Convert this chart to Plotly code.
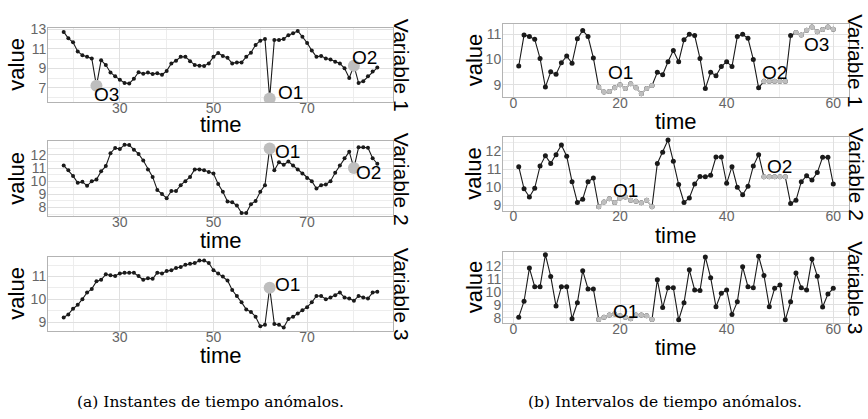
import plotly.graph_objects as go

W, H = 868, 419

# ---------------- data ----------------
time_a = list(range(18, 86))
time_b = list(range(1, 61))

a_var1 = [12.73, 12.07, 11.67, 10.73, 10.33, 10.17, 10.0, 7.2, 9.83, 9.33,
          8.57, 8.17, 7.83, 7.5, 7.43, 7.93, 8.6, 8.43, 8.57, 8.4,
          8.5, 8.33, 8.73, 9.5, 9.77, 10.17, 10.17, 9.73, 9.33, 9.27,
          9.23, 9.5, 10.17, 10.57, 10.27, 10.07, 9.5, 9.6, 9.6, 10.17,
          10.6, 11.4, 11.83, 12.0, 5.9, 11.9, 11.9, 12.0, 12.4, 12.6,
          12.83, 12.23, 11.6, 10.83, 10.17, 10.27, 10.0, 9.9, 9.67, 9.5,
          9.0, 8.0, 9.27, 7.5, 7.67, 8.17, 8.67, 9.07]
a_var2 = [11.2, 10.83, 10.4, 9.88, 9.95, 9.65, 10.0, 10.13, 10.75, 11.15,
          12.13, 12.53, 12.45, 12.78, 12.75, 12.4, 12.08, 11.58, 10.9, 10.33,
          9.33, 9.03, 8.7, 9.25, 9.25, 9.7, 10.0, 10.33, 10.9, 10.9,
          10.83, 10.7, 10.58, 9.78, 9.2, 8.45, 8.4, 8.15, 7.58, 7.58,
          8.25, 8.5, 9.2, 9.7, 12.5, 10.83, 11.45, 11.25, 11.5, 11.2,
          10.9, 10.58, 10.25, 10.0, 9.45, 9.7, 9.75, 10.0, 10.65, 11.2,
          11.75, 12.25, 11.0, 12.58, 12.58, 12.55, 11.75, 11.33]
a_var3 = [9.21, 9.34, 9.59, 9.76, 10.01, 10.3, 10.46, 10.79, 10.86, 11.1,
          11.06, 11.03, 11.14, 11.17, 11.17, 11.17, 11.03, 10.86, 10.93, 10.9,
          11.17, 11.14, 11.24, 11.28, 11.38, 11.42, 11.52, 11.56, 11.59, 11.7,
          11.7, 11.6, 11.28, 11.14, 11.0, 10.83, 10.41, 10.15, 9.87, 9.56,
          9.45, 9.24, 8.82, 8.89, 10.51, 8.92, 8.89, 8.77, 9.14, 9.24,
          9.38, 9.52, 9.66, 9.87, 10.15, 10.15, 10.01, 10.08, 10.18, 10.3,
          10.08, 10.04, 9.94, 10.15, 10.08, 10.04, 10.3, 10.34]

b_var1 = [9.74, 10.96, 10.9, 10.79, 10.04, 8.91, 9.51, 9.42, 9.87, 10.13,
          9.85, 10.81, 11.14, 10.9, 10.06, 8.91, 8.72, 8.74, 8.88, 9.0,
          8.85, 9.04, 8.88, 8.65, 8.85, 8.97, 9.49, 9.4, 9.91, 10.35,
          9.91, 10.77, 10.99, 10.94, 10.04, 8.85, 9.49, 9.36, 9.72, 9.91,
          9.72, 10.9, 10.99, 10.83, 10.0, 8.88, 9.14, 9.14, 9.14, 9.14,
          9.14, 10.94, 11.06, 10.96, 11.15, 11.28, 11.09, 11.18, 11.28, 11.19]
b_var2 = [11.15, 9.91, 9.45, 9.95, 11.18, 11.76, 11.33, 11.82, 12.36, 11.73,
          10.31, 9.15, 9.33, 10.31, 10.51, 8.91, 9.18, 9.36, 9.15, 9.4,
          9.45, 9.27, 9.22, 9.13, 9.27, 8.91, 11.33, 11.95, 12.64, 11.45,
          10.15, 9.15, 9.4, 10.18, 10.6, 10.58, 10.67, 11.69, 11.69, 10.22,
          11.15, 10.0, 9.58, 10.05, 11.18, 11.82, 10.58, 10.58, 10.58, 10.58,
          10.58, 9.09, 9.27, 10.31, 10.64, 10.4, 10.82, 11.67, 11.67, 10.18]
b_var3 = [8.05, 9.28, 11.83, 10.4, 10.4, 12.86, 11.19, 8.91, 10.4, 10.4,
          7.93, 9.16, 11.63, 10.22, 10.22, 7.88, 8.05, 8.22, 8.3, 8.17,
          8.05, 7.93, 8.22, 8.22, 8.17, 7.88, 10.94, 8.79, 10.32, 10.32,
          7.85, 9.16, 11.7, 10.15, 10.1, 12.69, 11.09, 8.86, 9.9, 10.15,
          8.25, 9.23, 11.93, 10.4, 10.32, 12.74, 11.26, 8.86, 10.27, 10.52,
          7.85, 9.23, 11.46, 10.32, 10.15, 12.54, 11.21, 8.84, 9.83, 10.27]

a1_out_labels = ["O3", "O1", "O2"]
a1_out_times = [25, 62, 80]
a2_out_labels = ["O1", "O2"]
a2_out_times = [62, 80]
a3_out_labels = ["O1"]
a3_out_times = [62]

b1_int_labels = ["O1", "O2", "O3"]
b1_int_start = [16, 47, 53]
b1_int_end = [26, 51, 60]
b2_int_labels = ["O1", "O2"]
b2_int_start = [16, 47]
b2_int_end = [26, 51]
b3_int_labels = ["O1"]
b3_int_start = [16]
b3_int_end = [26]

strip_labels = ["Variable 1", "Variable 2", "Variable 3"]
captions = ["(a) Instantes de tiempo anómalos.", "(b) Intervalos de tiempo anómalos."]
x_title = "time"
y_title = "value"

# ---------------- style / layout ----------------
SANS = "Liberation Sans, Arial, sans-serif"
SERIF = "DejaVu Serif, serif"
TICK_COL = "#666666"
GRID_MAJ = "#E0E0E0"
GRID_MIN = "#EDEDED"
BORDER = "#B3B3B3"
LINE_COL = "#1a1a1a"
OUT_COL = "#BEBEBE"

left_x = (48, 393)
right_x = (503, 849)
left_rows = [(22, 98), (138, 215), (256, 332)]
right_rows = [(18, 93), (134, 209), (251, 324)]

def xdom(a, b):
    return [a / W, b / W]

def ydom(top, bot):
    return [1 - bot / H, 1 - top / H]

def px(x):
    return x / W

def py(y):
    return 1 - y / H

fig = go.Figure()
layout = dict(width=W, height=H, margin=dict(l=0, r=0, t=0, b=0),
              paper_bgcolor="white", plot_bgcolor="white", showlegend=False)
annotations = []

panels = [
    dict(t=time_a, v=a_var1, xp=left_x, rp=left_rows[0], xr=[14.65, 88.35], yr=[5.55, 13.18],
         xt=[30, 50, 70], xm=[20, 40, 60, 80], yt=[7, 9, 11, 13], ym=[6, 8, 10, 12]),
    dict(t=time_a, v=a_var2, xp=left_x, rp=left_rows[1], xr=[14.65, 88.35], yr=[7.32, 13.06],
         xt=[30, 50, 70], xm=[20, 40, 60, 80], yt=[8, 9, 10, 11, 12], ym=[7.5, 8.5, 9.5, 10.5, 11.5, 12.5]),
    dict(t=time_a, v=a_var3, xp=left_x, rp=left_rows[2], xr=[14.65, 88.35], yr=[8.62, 11.88],
         xt=[30, 50, 70], xm=[20, 40, 60, 80], yt=[9, 10, 11], ym=[8.5, 9.5, 10.5, 11.5]),
    dict(t=time_b, v=b_var1, xp=right_x, rp=right_rows[0], xr=[-1.95, 62.95], yr=[8.52, 11.41],
         xt=[0, 20, 40, 60], xm=[10, 30, 50], yt=[9, 10, 11], ym=[8.5, 9.5, 10.5]),
    dict(t=time_b, v=b_var2, xp=right_x, rp=right_rows[1], xr=[-1.95, 62.95], yr=[8.7, 12.8],
         xt=[0, 20, 40, 60], xm=[10, 30, 50], yt=[9, 10, 11, 12], ym=[8.5, 9.5, 10.5, 11.5, 12.5]),
    dict(t=time_b, v=b_var3, xp=right_x, rp=right_rows[2], xr=[-1.95, 62.95], yr=[7.6, 13.1],
         xt=[0, 20, 40, 60], xm=[10, 30, 50], yt=[8, 9, 10, 11, 12], ym=[8.5, 9.5, 10.5, 11.5, 12.5]),
]

for k, p in enumerate(panels, start=1):
    xa = "x" if k == 1 else f"x{k}"
    ya = "y" if k == 1 else f"y{k}"
    common = dict(showline=True, mirror=True, linecolor=BORDER, linewidth=1,
                  zeroline=False, showgrid=True, gridcolor=GRID_MAJ, gridwidth=1,
                  tickfont=dict(family=SANS, size=14, color=TICK_COL),
                  ticks="", fixedrange=True)
    layout["xaxis" if k == 1 else f"xaxis{k}"] = dict(
        domain=xdom(*p["xp"]), anchor=ya, range=p["xr"], tickmode="array",
        tickvals=p["xt"], minor=dict(tickvals=p["xm"], showgrid=True, gridcolor=GRID_MIN, gridwidth=1),
        ticklabelstandoff=-7, **common)
    layout["yaxis" if k == 1 else f"yaxis{k}"] = dict(
        domain=ydom(*p["rp"]), anchor=xa, range=p["yr"], tickmode="array",
        tickvals=p["yt"], minor=dict(tickvals=p["ym"], showgrid=True, gridcolor=GRID_MIN, gridwidth=1),
        ticklabelstandoff=-2, **common)
    msize = 4 if k <= 3 else 5
    fig.add_trace(go.Scatter(x=p["t"], y=p["v"], mode="lines+markers", xaxis=xa, yaxis=ya,
                             line=dict(color=LINE_COL, width=1.1),
                             marker=dict(color=LINE_COL, size=msize), hoverinfo="skip"))

# ---------- outliers (left) ----------
left_out = [(a1_out_labels, a1_out_times, a_var1, [(-4, -9), (6, 6), (-4, 8)]),
            (a2_out_labels, a2_out_times, a_var2, [(3, -3), (0, -4)]),
            (a3_out_labels, a3_out_times, a_var3, [(3, 3)])]
for r, (labs, times, vals, shifts) in enumerate(left_out):
    k = r + 1
    xa = "x" if k == 1 else f"x{k}"
    ya = "y" if k == 1 else f"y{k}"
    ov = [vals[time_a.index(t)] for t in times]
    fig.add_trace(go.Scatter(x=times, y=ov, mode="markers", xaxis=xa, yaxis=ya,
                             marker=dict(color=OUT_COL, size=12), hoverinfo="skip"))
    for lab, t, v, (dx, dy) in zip(labs, times, ov, shifts):
        annotations.append(dict(x=t, y=v, xref=xa, yref=ya, text=lab, showarrow=False,
                                xanchor="left", yanchor="middle", xshift=dx, yshift=dy,
                                font=dict(family=SANS, size=19, color="black")))

# ---------- intervals (right) ----------
right_int = [(b1_int_labels, b1_int_start, b1_int_end, b_var1, [(-5, 11, "max"), (0, 9, "max"), (2, -9, "min")]),
             (b2_int_labels, b2_int_start, b2_int_end, b_var2, [(0, 7, "max"), (5, 10, "max")]),
             (b3_int_labels, b3_int_start, b3_int_end, b_var3, [(0, 2, "max")])]
for r, (labs, starts, ends, vals, shifts) in enumerate(right_int):
    k = r + 4
    xa = f"x{k}"
    ya = f"y{k}"
    for lab, s, e, (dx, dy, which) in zip(labs, starts, ends, shifts):
        i0, i1 = time_b.index(s), time_b.index(e)
        tt = time_b[i0:i1 + 1]
        vv = vals[i0:i1 + 1]
        fig.add_trace(go.Scatter(x=tt, y=vv, mode="lines+markers", xaxis=xa, yaxis=ya,
                                 line=dict(color=OUT_COL, width=1.4),
                                 marker=dict(color=OUT_COL, size=5), hoverinfo="skip"))
        ly = max(vv) if which == "max" else min(vv)
        annotations.append(dict(x=(s + e) / 2, y=ly, xref=xa, yref=ya, text=lab, showarrow=False,
                                xanchor="center", yanchor="middle", xshift=dx, yshift=dy,
                                font=dict(family=SANS, size=19, color="black")))

# ---------- titles / strips ----------
title_font = dict(family=SANS, size=22, color="black")
for rows, xp, vx, sx, tys in [(left_rows, left_x, 17, 401, [121, 240, 357]),
                              (right_rows, right_x, 474, 856, [118, 235, 349])]:
    for (top, bot), lab, ty in zip(rows, strip_labels, tys):
        cy = (top + bot) / 2
        annotations.append(dict(x=px(vx), y=py(cy), xref="paper", yref="paper", text=y_title,
                                textangle=-90, showarrow=False, xanchor="center", yanchor="middle",
                                font=title_font))
        annotations.append(dict(x=px(sx), y=py(cy), xref="paper", yref="paper", text=lab,
                                textangle=90, showarrow=False, xanchor="center", yanchor="middle",
                                font=dict(family=SANS, size=21, color="black")))
        annotations.append(dict(x=px((xp[0] + xp[1]) / 2), y=py(ty), xref="paper", yref="paper",
                                text=x_title, showarrow=False, xanchor="center", yanchor="middle",
                                font=title_font))

for cap, cx in zip(captions, [210, 665]):
    annotations.append(dict(x=px(cx), y=py(405), xref="paper", yref="paper", text=cap,
                            showarrow=False, xanchor="center", yanchor="middle",
                            font=dict(family=SERIF, size=15.5, color="black")))

layout["annotations"] = annotations
fig.update_layout(**layout)
fig.write_html("out.html", config={"displayModeBar": False})
